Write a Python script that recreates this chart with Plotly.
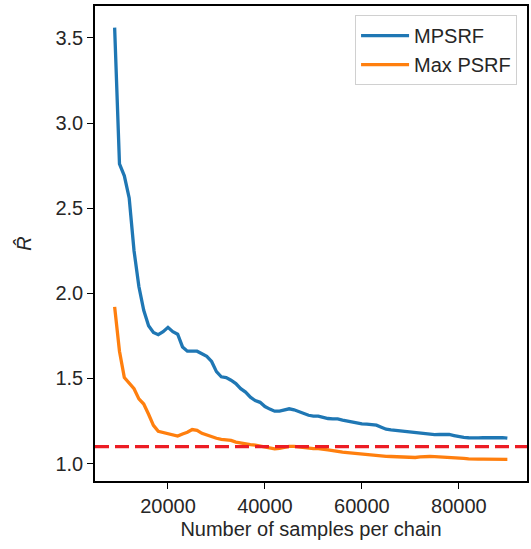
import plotly.graph_objects as go

samples = list(range(9000, 90001, 1000))

mpsrf = [3.56, 2.76, 2.69, 2.56, 2.25, 2.04, 1.90, 1.81, 1.77, 1.757,
         1.775, 1.80, 1.775, 1.76, 1.685, 1.66, 1.66, 1.66, 1.645, 1.63,
         1.60, 1.54, 1.51, 1.505, 1.49, 1.47, 1.44, 1.42, 1.39, 1.37,
         1.36, 1.335, 1.32, 1.308, 1.308, 1.315, 1.322, 1.316, 1.305, 1.296,
         1.284, 1.279, 1.279, 1.272, 1.265, 1.263, 1.263, 1.256, 1.25, 1.244,
         1.238, 1.234, 1.232, 1.23, 1.226, 1.214, 1.202, 1.198, 1.195, 1.192,
         1.19, 1.185, 1.18, 1.179, 1.175, 1.171, 1.17, 1.171, 1.172, 1.171,
         1.165, 1.158, 1.154, 1.152, 1.15, 1.151, 1.152, 1.152, 1.154, 1.156,
         1.153, 1.15]

max_psrf = [1.92, 1.66, 1.505, 1.475, 1.44, 1.38, 1.35, 1.29, 1.225, 1.19,
            1.182, 1.177, 1.168, 1.162, 1.174, 1.184, 1.20, 1.196, 1.178, 1.168,
            1.155, 1.149, 1.143, 1.139, 1.136, 1.126, 1.12, 1.116, 1.112, 1.108,
            1.102, 1.096, 1.09, 1.087, 1.09, 1.098, 1.101, 1.101, 1.098, 1.093,
            1.089, 1.088, 1.088, 1.086, 1.081, 1.077, 1.071, 1.067, 1.064, 1.061,
            1.057, 1.054, 1.052, 1.05, 1.049, 1.046, 1.043, 1.042, 1.04, 1.039,
            1.038, 1.037, 1.036, 1.04, 1.042, 1.042, 1.041, 1.04, 1.039, 1.038,
            1.036, 1.034, 1.031, 1.028, 1.026, 1.026, 1.027, 1.027, 1.026, 1.025,
            1.025, 1.025]

threshold = 1.1
x_ticks = [20000, 40000, 60000, 80000]
y_ticks = [1.0, 1.5, 2.0, 2.5, 3.0, 3.5]

FONT = "Liberation Sans, Arial, sans-serif"

fig = go.Figure()
fig.add_trace(go.Scatter(x=samples, y=mpsrf, mode="lines", name="MPSRF",
                         line=dict(color="#1f77b4", width=3.3)))
fig.add_trace(go.Scatter(x=samples, y=max_psrf, mode="lines", name="Max PSRF",
                         line=dict(color="#ff7f0e", width=3.3)))
fig.add_hline(y=threshold, line=dict(color="#ec1c24", width=3.2, dash="14px,6px"))

axis_common = dict(showgrid=False, zeroline=False, showline=True, linecolor="black",
                   linewidth=1.5, mirror=True, ticks="outside", ticklen=6, tickwidth=1.3,
                   tickcolor="black", tickfont=dict(size=20, color="#262626", family=FONT))

fig.update_xaxes(range=[4950, 94050], tickvals=x_ticks, ticktext=[str(v) for v in x_ticks],
                 title=dict(text="Number of samples per chain", font=dict(size=20, color="#262626", family=FONT),
                            standoff=6),
                 **axis_common)
fig.update_yaxes(range=[0.898, 3.687], tickvals=y_ticks, ticktext=[f"{v:.1f}" for v in y_ticks],
                 title=dict(text="<i>R̂</i>", font=dict(size=20, color="#262626", family=FONT),
                            standoff=18),
                 **axis_common)

fig.update_layout(
    width=531, height=549,
    margin=dict(l=95, r=2, t=6, b=68),
    plot_bgcolor="white", paper_bgcolor="white",
    font=dict(family=FONT),
    legend=dict(x=0.977, y=0.981, xanchor="right", yanchor="top", itemwidth=48,
                bgcolor="rgba(255,255,255,0.8)", bordercolor="#d0d0d0", borderwidth=1,
                font=dict(size=20, color="#262626", family=FONT)),
    showlegend=True,
)

fig.write_html("out.html")
